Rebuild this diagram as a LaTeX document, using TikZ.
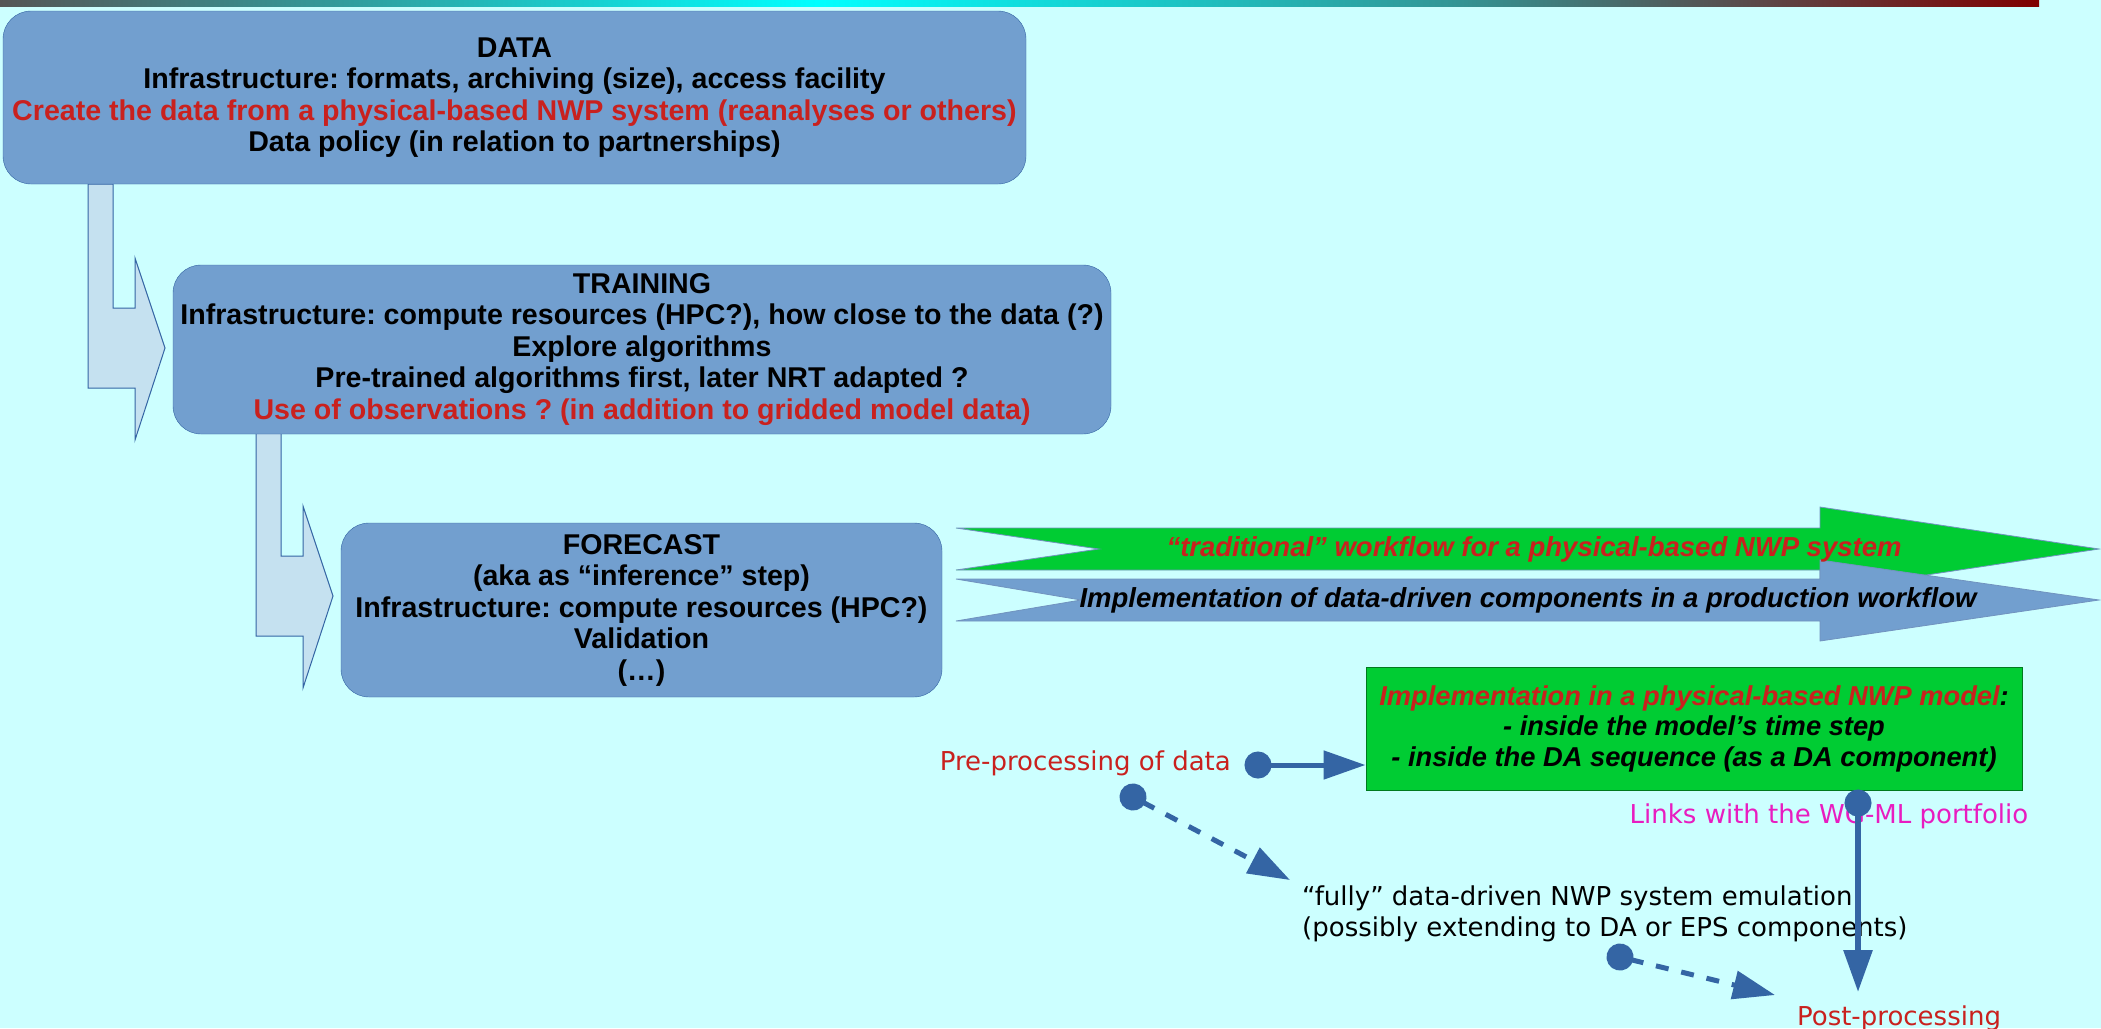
\documentclass[tikz,border=0pt]{standalone}
\usepackage{fontspec}
\setmainfont{Liberation Sans}
\newfontfamily\dejavu{DejaVu Sans}
\usetikzlibrary{arrows.meta}
\frenchspacing
\definecolor{bg}{RGB}{204,255,255}
\definecolor{boxblue}{RGB}{114,159,207}
\definecolor{edgeblue}{RGB}{52,101,164}
\definecolor{paleblue}{RGB}{197,225,240}
\definecolor{brightgreen}{RGB}{0,204,51}
\definecolor{txtred}{RGB}{201,33,30}
\definecolor{txtmag}{RGB}{232,28,192}
\definecolor{bargrey}{RGB}{85,85,85}
\definecolor{barteal}{RGB}{50,150,150}
\definecolor{barcyan}{RGB}{0,255,255}
\definecolor{bardark}{RGB}{90,75,75}
\definecolor{barred}{RGB}{128,0,0}

\begin{document}
\begin{tikzpicture}[x=1pt, y=-1pt, stage/.style={draw=edgeblue, fill=boxblue, rounded corners=28, inner sep=0pt, align=center, font=\fontsize{28.6}{31.5}\selectfont\bfseries}, bent/.style={draw=edgeblue, fill=paleblue, line width=1pt}, flow/.style={draw=edgeblue!70, line width=0.8pt}, flowtxt/.style={inner sep=0pt, font=\fontsize{27.5}{30}\selectfont\bfseries\itshape}, note/.style={inner sep=0pt, font=\dejavu\fontsize{26}{30.5}\selectfont}, lk/.style={edgeblue, line width=5pt, shorten <=-13.5pt, {Circle[length=27pt]}-{Triangle[length=42pt, width=28pt]}}, dk/.style={lk, dash pattern=on 13pt off 13pt}]
                \useasboundingbox (0,0) rectangle (2101,1028);
                \fill[bg] (0,0) rectangle (2101,1028);
                \shade[left color=bargrey, middle color=barteal, right color=barcyan] (0,0) rectangle (817,6);
                \shade[left color=barcyan, right color=barteal] (817,0) rectangle (1450,6);
                \shade[left color=barteal, middle color=bardark, right color=barred] (1450,0) rectangle (2039,6);
                % bent arrows
                \draw[bent] (88,184) -- (88,388) -- (135,388) -- (135,440) -- (165,348) -- (135,258) -- (135,308) -- (113,308) -- (113,184) -- cycle;
                \draw[bent] (256,432) -- (256,636) -- (303,636) -- (303,688) -- (333,596) -- (303,506) -- (303,556) -- (281,556) -- (281,432) -- cycle;
                % block arrows
                \draw[flow, fill=brightgreen] (956,528) -- (1820,528) -- (1820,507) -- (2099,549) -- (1820,591) -- (1820,570) -- (956,570) -- (1099,549) -- cycle;
                \draw[flow, fill=boxblue] (956,579) -- (1820,579) -- (1820,560) -- (2099,600) -- (1820,641) -- (1820,621) -- (956,621) -- (1081,600) -- cycle;
                % nodes
                \node[stage, minimum width=1023, minimum height=173] (data) at (514.5,97.5) {DATA\\Infrastructure: formats, archiving (size), access facility\\\textcolor{txtred}{Create the data from a physical-based NWP system (reanalyses or others)}\\Data policy (in relation to partnerships)};
                \node[stage, minimum width=938, minimum height=169] (training) at (642,349.5) {TRAINING\\Infrastructure: compute resources (HPC?), how close to the data (?)\\Explore algorithms\\Pre-trained algorithms first, later NRT adapted ?\\\textcolor{txtred}{Use of observations ? (in addition to gridded model data)}};
                \node[stage, minimum width=601, minimum height=174] (forecast) at (641.5,610) {FORECAST\\(aka as “inference” step)\\Infrastructure: compute resources (HPC?)\\Validation\\(…)};
                \node[flowtxt, text=txtred] (trad) at (1534,549) {“traditional” workflow for a physical-based NWP system};
                \node[flowtxt] (prod) at (1528,600) {Implementation of data-driven components in a production workflow};
                \node[draw=black!40!brightgreen, line width=1pt, fill=brightgreen, minimum width=656, minimum height=123, inner sep=0pt, align=center, font=\fontsize{27.3}{30.5}\selectfont\bfseries\itshape] (impl) at (1694,728.5) {\textcolor{txtred}{Implementation in a physical-based NWP model}:\\- inside the model’s time step\\- inside the DA sequence (as a DA component)};
                \node[note, text=txtred, anchor=east] (pre) at (1231,763) {Pre-processing of data};
                \node[note, anchor=west, align=left] (fully) at (1302,914) {“fully” data-driven NWP system emulation\\(possibly extending to DA or EPS components)};
                \node[note, text=txtmag] (links) at (1829,816) {Links with the WG-ML portfolio};
                \node[note, text=txtred] (post) at (1899,1018) {Post-processing};
                % edges
                \coordinate (predot) at (1258,765);
                \coordinate (fulldot) at (1133,797);
                \coordinate (fullin) at (1290,880);
                \coordinate (emudot) at (1620,957);
                \coordinate (postin) at (1775,995);
                \coordinate (impldot) at (1858,803);
                \coordinate (postup) at (1858,992);
                \draw[lk] (predot) -- (impl.west |- predot);
                \draw[dk] (fulldot) -- (fullin);
                \draw[dk] (emudot) -- (postin);
                \draw[lk, line width=6pt] (impldot) -- (postup);
            \end{tikzpicture}
\end{document}
